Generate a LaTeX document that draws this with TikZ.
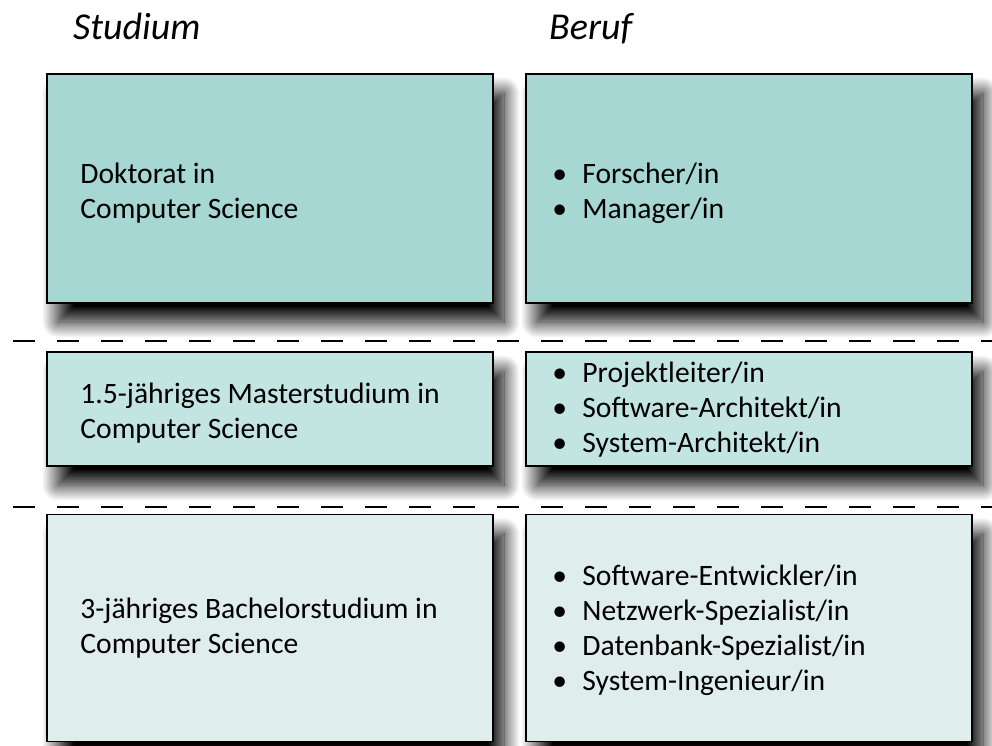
\documentclass[tikz,border=0pt]{standalone}
\usepackage{fontspec}
\setmainfont{Carlito}
\usepackage{tikz}
\usetikzlibrary{shadows.blur}

\definecolor{dokcol}{HTML}{A6D7D2}
\definecolor{mascol}{HTML}{C3E5E1}
\definecolor{baccol}{HTML}{DFEEEC}

\tikzset{
	stufe/.style={draw=black, line width=1.6pt, rectangle, minimum width=446pt,
		blur shadow={shadow xshift=11pt, shadow yshift=-19pt, shadow blur radius=16pt, shadow blur steps=30, shadow opacity=100}},
	inhalt/.style={anchor=west, inner sep=0pt, align=left, font=\fontsize{29.6}{35}\selectfont},
	titel/.style={anchor=base west, inner sep=0pt, font=\fontsize{38}{44}\selectfont\itshape},
	trenn/.style={line width=2.6pt, dash pattern=on 22pt off 22pt}
}
\newcommand{\punkt}{\makebox[30pt][l]{\textbullet}}

\begin{document}
\begin{tikzpicture}[x=1pt, y=-1pt]
	%%%%% START %%%%%
	
	\useasboundingbox (0,0) rectangle (992,745);
	
	\node[titel] (studium) at (73,39) {Studium};
	\node[titel] (beruf) at (549,39) {Beruf};
	
	% Doktorat
	\node[stufe, fill=dokcol, minimum height=229pt] (doktorat) at (270,188.5) {};
	\node[stufe, fill=dokcol, minimum height=229pt] (forscher) at (749,188.5) {};
	\node[inhalt] (doktxt) at ([xshift=34pt, yshift=-5pt]doktorat.west) {Doktorat in\\Computer Science};
	\node[inhalt] (forschtxt) at ([xshift=27pt, yshift=-5pt]forscher.west) {\punkt Forscher/in\\\punkt Manager/in};
	
	\coordinate (t1a) at (13,341);
	\coordinate (t1b) at (992,341);
	\draw[trenn] (t1a) -- (t1b);
	
	% Master
	\node[stufe, fill=mascol, minimum height=114pt] (master) at (270,409) {};
	\node[stufe, fill=mascol, minimum height=114pt] (leiter) at (749,409) {};
	\node[inhalt] (mastxt) at ([xshift=34pt, yshift=-4pt]master.west) {1.5-jähriges Masterstudium in\\Computer Science};
	\node[inhalt] (leitertxt) at ([xshift=27pt, yshift=-1pt]leiter.west) {\punkt Projektleiter/in\\\punkt Software-Architekt/in\\\punkt System-Architekt/in};
	
	\coordinate (t2a) at (13,507);
	\coordinate (t2b) at (992,507);
	\draw[trenn] (t2a) -- (t2b);
	
	% Bachelor
	\node[stufe, fill=baccol, minimum height=227pt] (bachelor) at (270,628) {};
	\node[stufe, fill=baccol, minimum height=227pt] (entwickler) at (749,628) {};
	\node[inhalt] (bactxt) at ([xshift=34pt, yshift=0pt]bachelor.west) {3-jähriges Bachelorstudium in\\Computer Science};
	\node[inhalt] (entwtxt) at ([xshift=27pt, yshift=-2pt]entwickler.west) {\punkt Software-Entwickler/in\\\punkt Netzwerk-Spezialist/in\\\punkt Datenbank-Spezialist/in\\\punkt System-Ingenieur/in};
	
	%%%%% END %%%%%
\end{tikzpicture}
\end{document}
